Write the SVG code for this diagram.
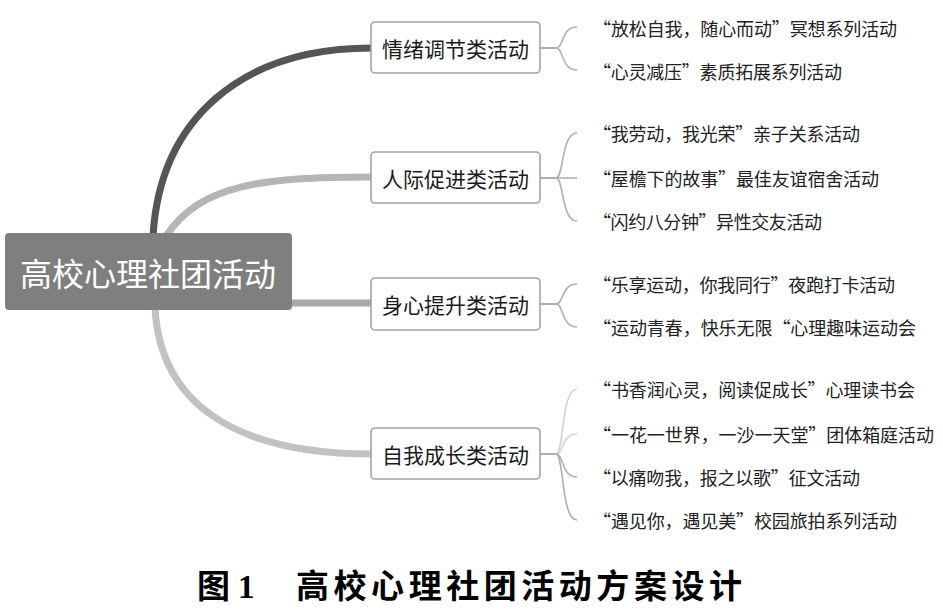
<svg xmlns="http://www.w3.org/2000/svg" width="943" height="616" viewBox="0 0 943 616">
<style>
.bg{fill:#ffffff}
.main{fill:none;stroke-linecap:round;stroke-width:7}
.br{fill:none;stroke:#999;stroke-width:1.6}
.lf{fill:none;stroke:#b0b0b0;stroke-width:1.6}
.lf2{fill:none;stroke:#d2d2d2;stroke-width:1.6}
.box{fill:#ffffff;stroke:#a3a3a3;stroke-width:1.6}
.root{fill:#7f7f7f}
.rt{font-family:"Noto Sans CJK SC","Noto Sans",sans-serif;font-size:32px;fill:#ffffff;text-anchor:middle;dominant-baseline:central}
.bt{font-family:"Noto Sans CJK SC","Noto Sans",sans-serif;font-size:21px;fill:#1a1a1a;text-anchor:middle;dominant-baseline:central}
.lt{font-family:"Noto Sans CJK SC","Noto Sans",sans-serif;font-size:18px;fill:#222;dominant-baseline:central}
.cap{font-family:"Liberation Serif","Noto Sans CJK SC",serif;font-weight:bold;font-size:33px;fill:#000}
</style>
<rect class="bg" x="0" y="0" width="943" height="616"/>
<g id="connectors">
<path class="main" stroke="#555555" d="M153,236 C160,120 240,48 372,48"/>
<path class="main" stroke="#b5b5b5" d="M166,236 C200,185 260,177 372,177"/>
<path class="main" stroke="#a9a9a9" d="M290,303 H372"/>
<path class="main" stroke="#c2c2c2" d="M155,308 C160,400 230,454 372,454"/>
<path class="br" d="M540,48 H556"/>
<path class="lf" d="M556,48 C564,48 561,27 577,27"/>
<path class="lf" d="M556,48 C564,48 561,70 577,70"/>
<path class="br" d="M540,178 H556"/>
<path class="lf" d="M556,178 C564,178 561,133 577,133"/>
<path class="lf" d="M556,178 H577"/>
<path class="lf" d="M556,178 C564,178 561,221 577,221"/>
<path class="br" d="M540,304 H556"/>
<path class="lf" d="M556,304 C564,304 561,284 577,284"/>
<path class="lf" d="M556,304 C564,304 561,327 577,327"/>
<path class="br" d="M540,454 H556"/>
<path class="lf2" d="M556,454 C564,454 561,389 577,389"/>
<path class="lf2" d="M556,454 C564,454 561,434 577,434"/>
<path class="lf" d="M556,454 C564,454 561,477 577,477"/>
<path class="lf" d="M556,454 C564,454 561,520 577,520"/>
</g>
<g id="root">
<rect class="root" x="5" y="233" width="287" height="77" rx="4"/>
<text class="rt" x="148" y="272">高校心理社团活动</text>
</g>
<g id="b1">
<rect class="box" x="371" y="22" width="169" height="51" rx="4"/>
<text class="bt" x="455.5" y="48">情绪调节类活动</text>
</g>
<g id="b2">
<rect class="box" x="371" y="152" width="169" height="51" rx="4"/>
<text class="bt" x="455.5" y="178">人际促进类活动</text>
</g>
<g id="b3">
<rect class="box" x="371" y="278" width="169" height="52" rx="4"/>
<text class="bt" x="455.5" y="304">身心提升类活动</text>
</g>
<g id="b4">
<rect class="box" x="371" y="428" width="169" height="51" rx="4"/>
<text class="bt" x="455.5" y="454">自我成长类活动</text>
</g>
<g id="leaves">
<text class="lt" x="593" y="28" textLength="304" lengthAdjust="spacing">“放松自我，随心而动”冥想系列活动</text>
<text class="lt" x="593" y="71" textLength="249" lengthAdjust="spacing">“心灵减压”素质拓展系列活动</text>
<text class="lt" x="593" y="133" textLength="267" lengthAdjust="spacing">“我劳动，我光荣”亲子关系活动</text>
<text class="lt" x="593" y="178" textLength="286" lengthAdjust="spacing">“屋檐下的故事”最佳友谊宿舍活动</text>
<text class="lt" x="593" y="221" textLength="229" lengthAdjust="spacing">“闪约八分钟”异性交友活动</text>
<text class="lt" x="593" y="284" textLength="302" lengthAdjust="spacing">“乐享运动，你我同行”夜跑打卡活动</text>
<text class="lt" x="593" y="327" textLength="323" lengthAdjust="spacing">“运动青春，快乐无限“心理趣味运动会</text>
<text class="lt" x="593" y="389" textLength="322" lengthAdjust="spacing">“书香润心灵，阅读促成长”心理读书会</text>
<text class="lt" x="593" y="434" textLength="341" lengthAdjust="spacing">“一花一世界，一沙一天堂”团体箱庭活动</text>
<text class="lt" x="593" y="477" textLength="267" lengthAdjust="spacing">“以痛吻我，报之以歌”征文活动</text>
<text class="lt" x="593" y="520" textLength="304" lengthAdjust="spacing">“遇见你，遇见美”校园旅拍系列活动</text>
</g>
<g id="caption">
<text class="cap" x="197" y="598">图</text>
<text class="cap" x="238" y="598">1</text>
<text class="cap" x="296" y="598" textLength="446" lengthAdjust="spacing">高校心理社团活动方案设计</text>
</g>
</svg>
